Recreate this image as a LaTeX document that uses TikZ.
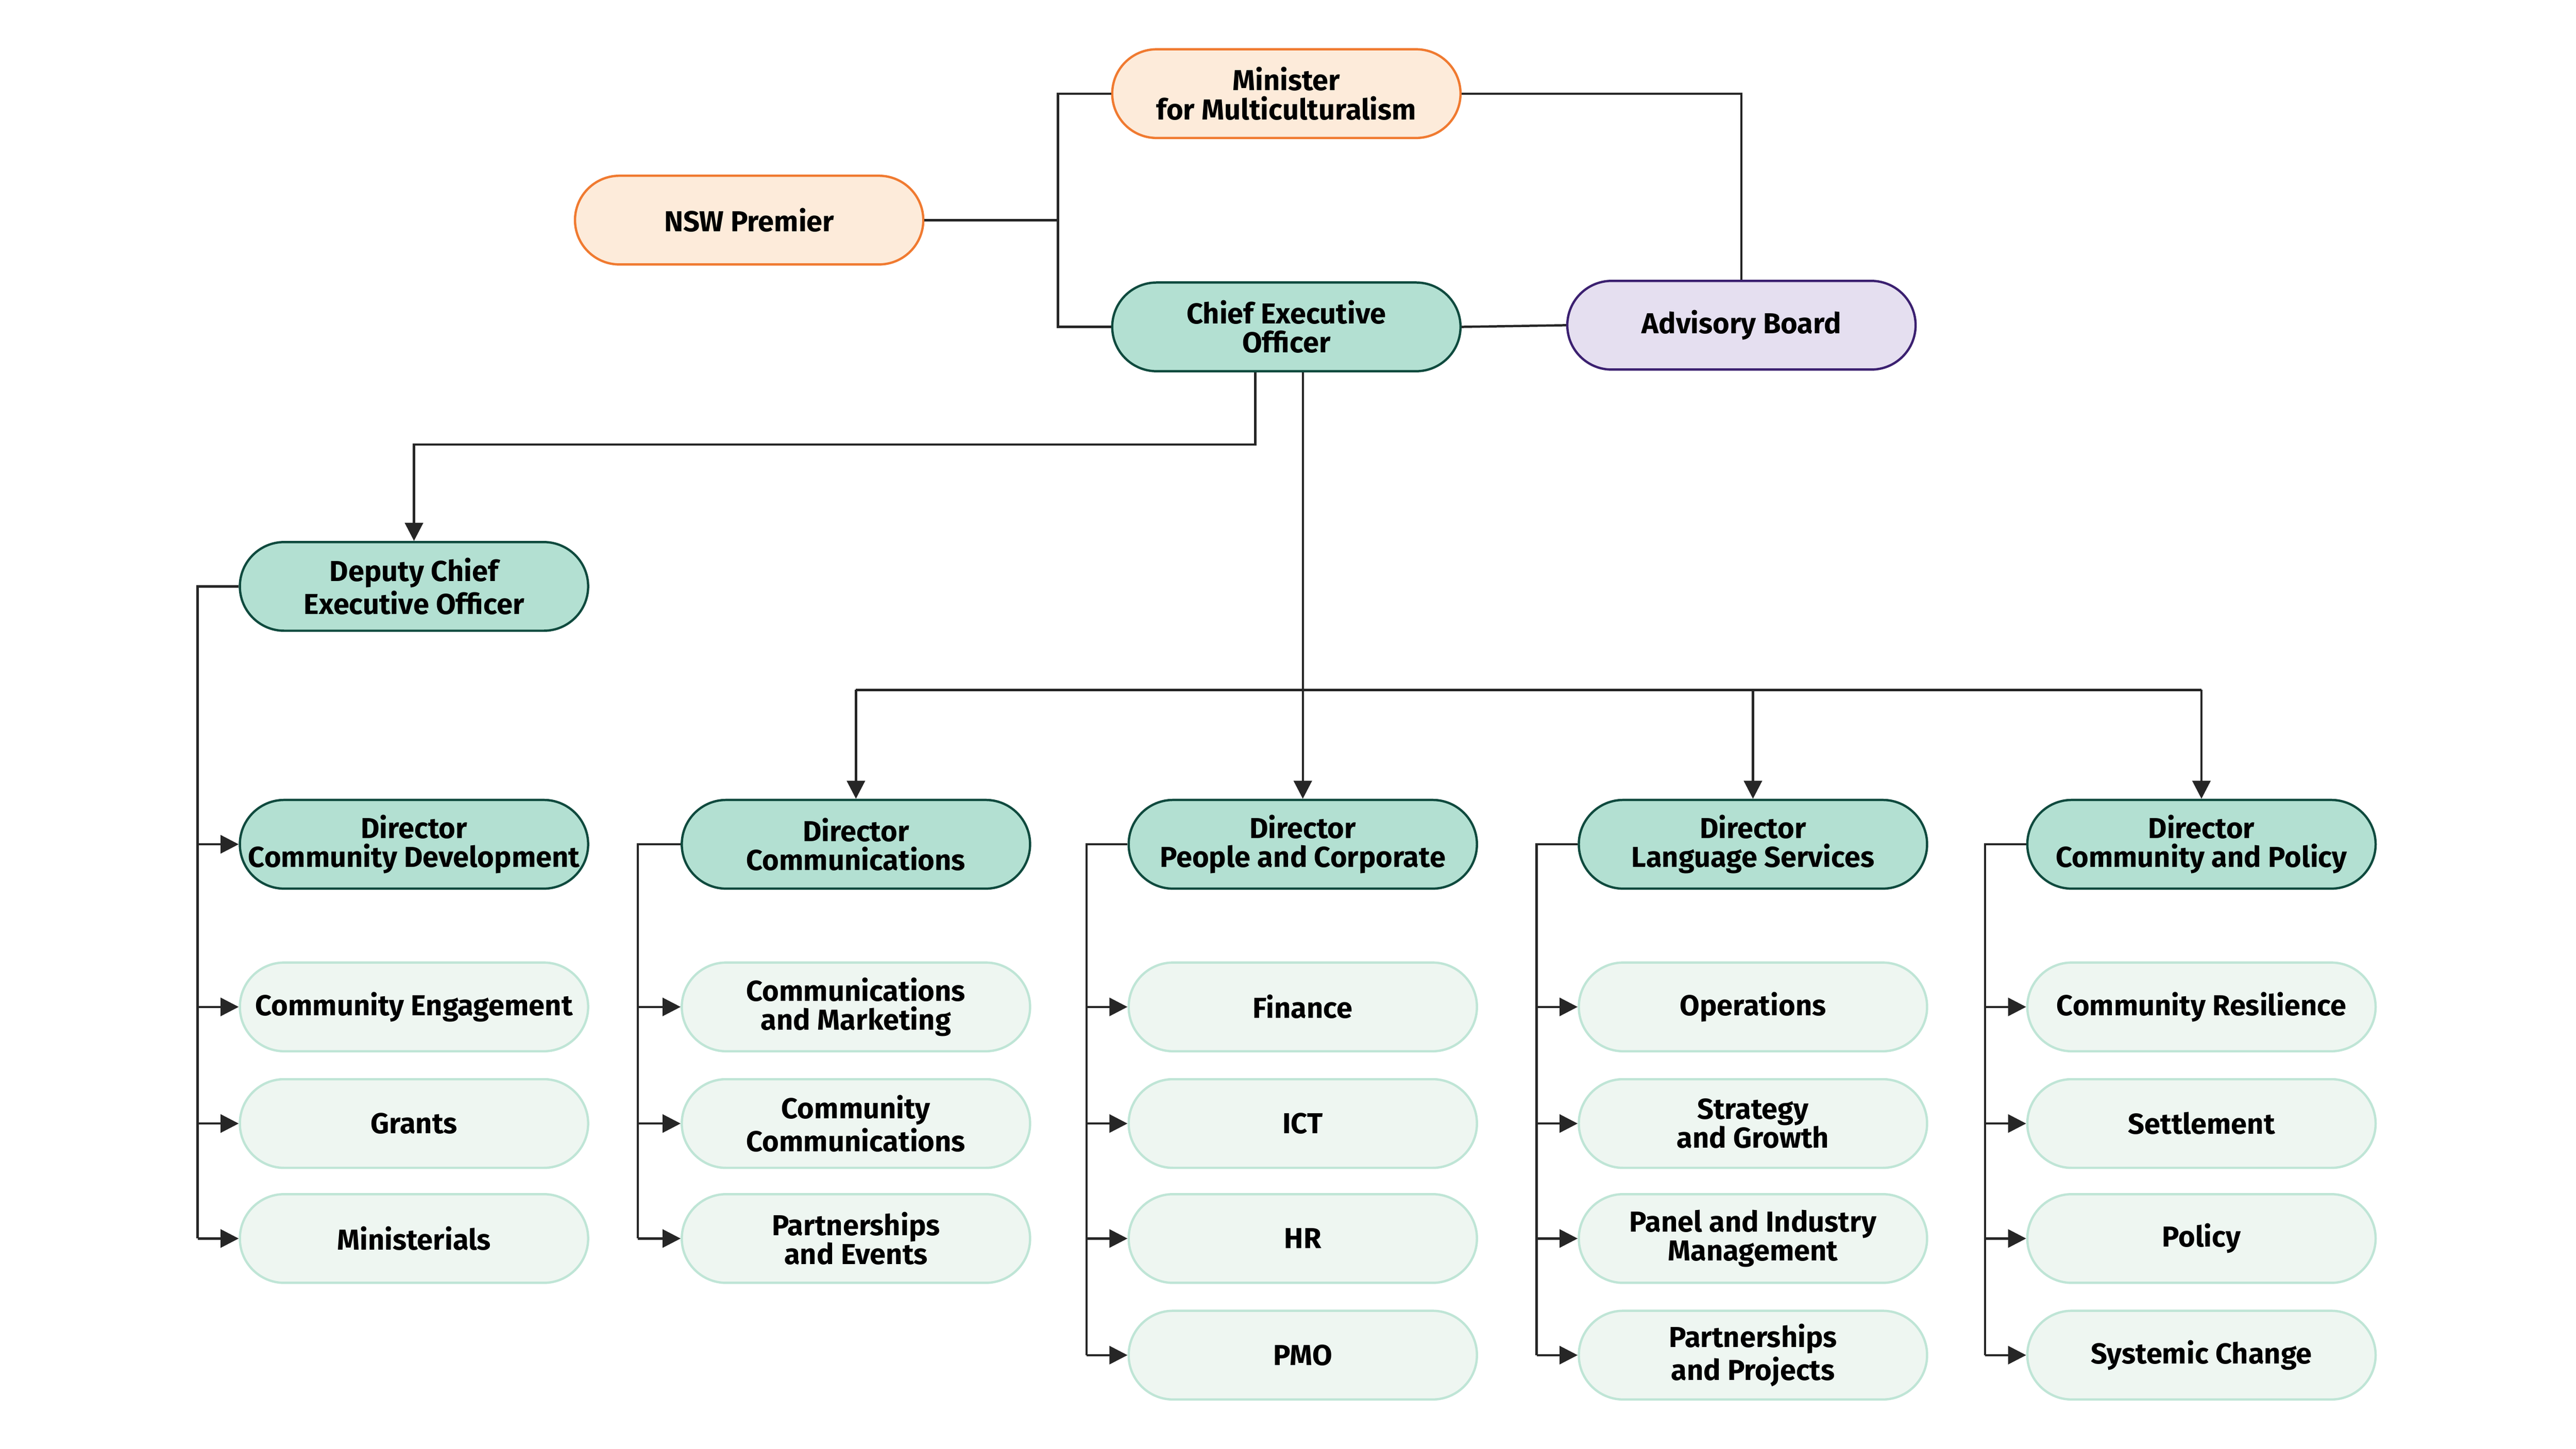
\documentclass[tikz,border=0pt]{standalone}
\usepackage{fontspec}
\setmainfont{Fira Sans}
\usetikzlibrary{positioning, shapes}
\usetikzlibrary{arrows.meta}
\definecolor{orfill}{HTML}{FDEBDA}
\definecolor{ordraw}{HTML}{F07A30}
\definecolor{tlfill}{HTML}{B3E0D2}
\definecolor{tldraw}{HTML}{0F4A3E}
\definecolor{pufill}{HTML}{E5DFF0}
\definecolor{pudraw}{HTML}{3B2070}
\definecolor{ltfill}{HTML}{EEF6F1}
\definecolor{ltdraw}{HTML}{BFE5D6}
\begin{document}
\begin{tikzpicture}
            \tikzset{box/.style = {rounded corners=0.54cm, minimum width=4.24cm, minimum height=1.08cm, align=center, line width=0.8pt, font=\fontsize{10}{10}\selectfont\bfseries, inner sep=1pt}}
            \tikzset{minbox/.style = {box, fill=orfill, draw=ordraw}}
            \tikzset{exbox/.style = {box, fill=tlfill, draw=tldraw}}
            \tikzset{advbox/.style = {box, fill=pufill, draw=pudraw}}
            \tikzset{unitbox/.style = {box, fill=ltfill, draw=ltdraw}}
            \tikzset{line/.style = {line width=0.8pt, black!85}}
            \tikzset{edge/.style = {line, -{Triangle[length=2.2mm, width=2.2mm]}}}

            \useasboundingbox (0,0) rectangle (31.36,-17.64);

            % top level
            \node[minbox] (min) at (15.66,-1.14) {Minister\\for Multiculturalism};
            \node[minbox] (prem) at (9.12,-2.68) {NSW Premier};
            \node[exbox] (ceo) at (15.66,-3.98) {Chief Executive\\Officer};
            \node[advbox] (adv) at (21.2,-3.96) {Advisory Board};
            \node[exbox] (dep) at (5.04,-7.14) {Deputy Chief\\Executive Officer};
            \coordinate (j) at (12.88,0);
            \coordinate (bus) at (0,-8.4);

            \draw[line] (min.west) -| (j |- ceo) -- (ceo.west);
            \draw[line] (prem.east) -- (prem.east -| j);
            \draw[line] (min.east) -| (adv.north);
            \draw[line] (ceo.east) -- (adv.west);
            \draw[edge] ([xshift=-0.38cm]ceo.south) -- ++(0,-0.88) -| (dep.north);

            % directors
            \node[exbox] (d1) at (5.04,-10.28) {Director\\Community Development};
            \node[exbox] (d2) at (10.42,-10.28) {Director\\Communications};
            \node[exbox] (d3) at (15.86,-10.28) {Director\\People and Corporate};
            \node[exbox] (d4) at (21.34,-10.28) {Director\\Language Services};
            \node[exbox] (d5) at (26.8,-10.28) {Director\\Community and Policy};

            \draw[edge] (ceo.south -| d3) -- (d3.north);
            \draw[line] (bus -| d2) -- (bus -| d5);
            \foreach \d in {d2,d4,d5}
                \draw[edge] (bus -| \d) -- (\d.north);

            % units
            \foreach \i/\x/\a/\b/\c/\e in {1/5.04/Community Engagement/Grants/Ministerials/,
                2/10.42/Communications\\and Marketing/Community\\Communications/Partnerships\\and Events/,
                3/15.86/Finance/ICT/HR/PMO,
                4/21.34/Operations/Strategy\\and Growth/Panel and Industry\\Management/Partnerships\\and Projects,
                5/26.8/Community Resilience/Settlement/Policy/Systemic Change}{
                \node[unitbox] (u\i a) at (\x,-12.26) {\a};
                \node[unitbox] (u\i b) at (\x,-13.68) {\b};
                \node[unitbox] (u\i c) at (\x,-15.08) {\c};
            }
            \node[unitbox] (u3d) at (15.86,-16.5) {PMO};
            \node[unitbox] (u4d) at (21.34,-16.5) {Partnerships\\and Projects};
            \node[unitbox] (u5d) at (26.8,-16.5) {Systemic Change};

            % column lines
            \draw[line] (dep.west) -- ++(-0.5,0) coordinate (t1) -- (t1 |- u1c);
            \foreach \u in {d1,u1a,u1b,u1c}
                \draw[edge] (t1 |- \u) -- (\u.west);
            \draw[line] (d2.west) -- ++(-0.52,0) coordinate (t2) -- (t2 |- u2c);
            \foreach \u in {u2a,u2b,u2c}
                \draw[edge] (t2 |- \u) -- (\u.west);
            \foreach \i in {3,4,5}{
                \draw[line] (d\i.west) -- ++(-0.5,0) coordinate (t\i) -- (t\i |- u\i d);
                \foreach \u in {a,b,c,d}
                    \draw[edge] (t\i |- u\i\u) -- (u\i\u.west);
            }

        \end{tikzpicture}
\end{document}
